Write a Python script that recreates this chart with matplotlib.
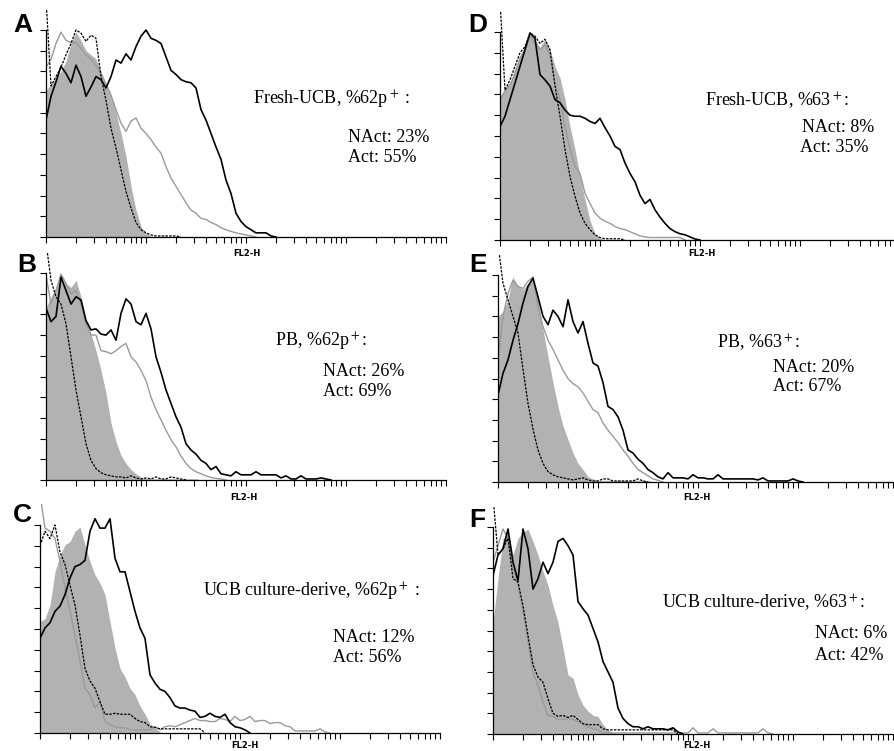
import numpy as np
import matplotlib
matplotlib.use('Agg')
import matplotlib.pyplot as plt
from matplotlib.ticker import LogLocator, NullFormatter

# histogram heights, one value per 0.05 decade of FL2-H,
# in units of the y tick spacing (10 = top tick)
CH_STEP = 0.05

# A: Fresh-UCB, 62p
A_fill = [7.1, 7.35, 7.7, 8.0, 8.5, 9.35, 9.9, 9.5, 9.0, 8.8, 8.6, 8.0, 7.3, 6.8, 6.0, 5.0, 3.9, 2.45,
          1.3, 0.5, 0.2, 0.03]
A_dash = [11.5, 7.3, 7.75, 8.2, 8.8, 9.35, 10.0, 9.85, 9.45, 9.75, 9.6, 7.75, 6.6, 5.25, 4.3, 3.25, 2.2,
          1.4, 0.7, 0.35, 0.2, 0.1, 0.05, 0.05, 0.05, 0.05, 0.05]
A_nact = [8.2, 8.6, 9.35, 9.9, 9.5, 9.4, 9.4, 9.1, 8.8, 8.6, 8.3, 7.9, 7.4, 6.85, 6.15, 5.5, 5.1, 5.6,
          5.75, 5.25, 5.0, 4.7, 4.35, 4.05, 3.4, 2.85, 2.45, 2.05, 1.65, 1.3, 1.15, 0.9, 0.85, 0.7, 0.6,
          0.45, 0.35, 0.27, 0.2, 0.15, 0.1, 0.05]
A_act = [5.65, 6.8, 7.5, 8.25, 7.9, 7.45, 8.3, 7.75, 6.8, 7.25, 7.75, 7.6, 7.2, 7.75, 8.55, 8.4, 8.85,
         8.55, 9.2, 9.7, 10.0, 9.6, 9.5, 9.35, 8.7, 8.05, 7.85, 7.6, 7.5, 7.45, 7.2, 6.15, 5.65, 5.0, 4.35,
         3.75, 2.75, 2.1, 1.15, 0.75, 0.5, 0.35, 0.2, 0.2, 0.2, 0.05]

# B: PB, 62p
B_fill = [8.35, 8.85, 9.3, 9.9, 9.5, 9.3, 9.65, 8.85, 7.7, 7.05, 6.25, 5.3, 4.2, 2.75, 1.85, 1.2, 0.8,
          0.5, 0.3, 0.15, 0.06, 0.06, 0.06, 0.06, 0.06, 0.06, 0.06, 0.06, 0.06, 0.06, 0.06]
B_dash = [11.5, 9.65, 8.85, 8.5, 7.55, 5.95, 4.35, 3.05, 1.75, 0.95, 0.55, 0.35, 0.25, 0.2, 0.15, 0.15,
          0.1, 0.2, 0.1, 0.05, 0.1, 0.05, 0.15, 0.05, 0.05, 0.15, 0.1, 0.05]
B_nact = [9.9, 8.5, 9.15, 9.95, 9.5, 9.0, 9.15, 8.5, 7.55, 7.0, 7.0, 6.25, 6.2, 6.1, 6.25, 6.45, 6.6,
          5.95, 5.7, 5.3, 4.8, 4.0, 3.4, 2.9, 2.4, 1.95, 1.6, 1.15, 0.8, 0.55, 0.4, 0.3, 0.2, 0.12, 0.08,
          0.05]
B_act = [8.3, 7.65, 7.9, 9.8, 9.15, 8.5, 8.85, 8.7, 7.7, 7.25, 7.3, 7.05, 7.0, 7.25, 6.75, 8.05, 8.75,
         8.5, 7.65, 7.5, 8.05, 7.3, 5.95, 5.2, 4.35, 3.7, 3.05, 2.55, 1.75, 1.45, 1.25, 0.95, 0.8, 0.5,
         0.65, 0.3, 0.25, 0.2, 0.4, 0.25, 0.25, 0.25, 0.4, 0.25, 0.25, 0.25, 0.25, 0.1, 0.2, 0.05, 0.05,
         0.2, 0.05, 0.05, 0.05, 0.1, 0.05]

# C: UCB culture-derive, 62p
C_fill = [5.35, 5.5, 6.15, 7.75, 8.55, 9.05, 9.2, 9.7, 9.9, 9.05, 8.25, 7.6, 7.2, 6.65, 5.35, 4.1, 3.1,
          2.7, 2.15, 1.85, 1.3, 0.9, 0.45, 0.25, 0.05]
C_dash = [9.0, 9.7, 9.35, 10.0, 8.7, 8.1, 7.1, 6.15, 4.7, 3.1, 2.5, 2.15, 1.5, 0.9, 0.9, 0.95, 0.9,
          0.9, 0.9, 0.7, 0.55, 0.5, 0.3, 0.27, 0.2, 0.2, 0.2, 0.2, 0.2, 0.2, 0.2, 0.2, 0.2]
C_nact = [11.5, 9.85, 9.7, 9.35, 8.25, 6.95, 5.85, 4.7, 3.45, 2.15, 1.85, 1.2, 1.5, 0.55, 0.4, 0.3, 0.25,
          0.25, 0.15, 0.15, 0.15, 0.15, 0.15, 0.3, 0.15, 0.3, 0.35, 0.3, 0.4, 0.5, 0.6, 0.7, 0.6, 0.6,
          0.55, 0.55, 0.7, 0.65, 0.55, 0.8, 0.6, 0.65, 0.8, 0.55, 0.6, 0.6, 0.45, 0.5, 0.5, 0.35, 0.3,
          0.1, 0.1, 0.1, 0.1, 0.1, 0.2, 0.05]
C_act = [4.55, 5.05, 5.3, 5.85, 6.1, 6.65, 7.45, 8.0, 8.1, 8.3, 9.7, 10.3, 9.85, 9.85, 10.3, 8.4, 7.75,
         7.75, 6.8, 5.85, 5.05, 4.55, 2.8, 2.4, 2.1, 2.0, 1.7, 1.3, 1.2, 1.2, 1.1, 1.05, 0.75, 0.8, 0.95,
         0.8, 0.75, 0.9, 0.5, 0.3, 0.25, 0.15]

# D: Fresh-UCB, 63
D_fill = [6.9, 7.3, 7.55, 8.25, 8.85, 9.15, 9.95, 9.65, 9.25, 9.65, 9.15, 8.35, 7.8, 6.75, 5.45, 4.35,
          3.05, 1.95, 0.95, 0.3, 0.1]
D_dash = [11.5, 7.2, 7.7, 8.35, 9.0, 9.3, 9.95, 9.8, 9.45, 9.65, 9.15, 7.4, 5.95, 4.35, 3.05, 2.1, 1.3,
          0.8, 0.5, 0.25, 0.12, 0.06, 0.06, 0.06, 0.06]
D_nact = [6.75, 7.15, 7.45, 8.0, 8.75, 9.15, 9.8, 9.45, 9.15, 9.4, 8.85, 7.55, 6.75, 5.45, 4.35, 3.55,
          3.2, 2.25, 1.75, 1.3, 1.05, 0.9, 0.8, 0.65, 0.55, 0.5, 0.4, 0.3, 0.2, 0.15, 0.12, 0.12, 0.12,
          0.12, 0.12, 0.12, 0.12]
D_act = [5.45, 5.95, 6.75, 7.55, 8.35, 9.15, 9.95, 9.7, 7.95, 7.7, 7.4, 6.75, 6.6, 6.25, 6.0, 5.95,
         5.95, 5.85, 5.7, 5.6, 5.85, 5.4, 5.0, 4.5, 4.35, 3.7, 3.2, 2.8, 2.15, 1.75, 1.95, 1.45, 1.1, 0.8,
         0.55, 0.4, 0.3, 0.25, 0.15, 0.05]

# E: PB, 63
E_fill = [8.0, 8.25, 8.8, 9.9, 9.45, 9.3, 9.6, 9.75, 8.8, 7.35, 6.05, 4.8, 3.65, 2.7, 2.05, 1.4, 0.9,
          0.6, 0.25, 0.15, 0.08, 0.08, 0.08, 0.08, 0.08, 0.08, 0.08, 0.08, 0.08, 0.08, 0.08]
E_dash = [11.5, 9.6, 8.8, 8.0, 7.2, 5.45, 3.8, 2.55, 1.55, 0.9, 0.5, 0.35, 0.25, 0.2, 0.15, 0.1, 0.15,
          0.2, 0.1, 0.05, 0.05, 0.15, 0.15, 0.05, 0.05, 0.05, 0.05, 0.05, 0.15, 0.05]
E_nact = [5.9, 8.0, 9.1, 9.75, 9.45, 9.35, 9.7, 9.9, 8.45, 7.5, 6.85, 6.4, 5.9, 5.4, 5.0, 4.75, 4.6,
          4.3, 3.9, 3.5, 3.35, 2.85, 2.5, 2.2, 1.9, 1.55, 1.25, 0.9, 0.6, 0.45, 0.3, 0.15, 0.08]
E_act = [4.2, 5.25, 5.9, 6.85, 7.65, 8.65, 9.45, 9.85, 8.95, 8.0, 7.6, 8.3, 8.0, 7.5, 8.8, 7.75, 7.2,
         7.75, 6.7, 5.75, 5.6, 4.8, 3.65, 3.5, 3.15, 2.5, 1.55, 1.4, 1.1, 0.9, 0.6, 0.45, 0.25, 0.15,
         0.45, 0.2, 0.2, 0.2, 0.15, 0.35, 0.2, 0.2, 0.15, 0.15, 0.35, 0.15, 0.15, 0.15, 0.15, 0.15, 0.15,
         0.15, 0.1, 0.2, 0.05, 0.05, 0.05, 0.05, 0.05, 0.15, 0.05]

# F: UCB culture-derive, 63
F_fill = [5.4, 7.5, 9.45, 9.75, 8.65, 9.45, 9.75, 9.9, 9.3, 8.65, 7.85, 7.2, 6.2, 5.4, 4.15, 2.85, 2.7,
          1.9, 1.4, 1.1, 0.9, 0.85, 0.45, 0.2, 0.08]
F_dash = [11.5, 8.65, 8.95, 9.45, 7.5, 7.35, 6.2, 4.75, 3.35, 2.75, 2.5, 1.7, 1.0, 0.85, 0.9, 0.8, 0.9,
          0.7, 0.5, 0.45, 0.45, 0.45, 0.25, 0.2, 0.2, 0.2, 0.2, 0.2, 0.2, 0.2, 0.2, 0.2, 0.2, 0.2, 0.2,
          0.2, 0.2]
F_nact = [8.3, 9.1, 9.9, 9.45, 8.0, 7.2, 5.9, 4.45, 3.0, 2.35, 1.55, 0.9, 0.85, 0.7, 0.7, 0.75, 0.7,
          0.6, 0.45, 0.35, 0.25, 0.2, 0.05, 0.05, 0.05, 0.05, 0.05, 0.05, 0.05, 0.05, 0.05, 0.05, 0.05,
          0.05, 0.05, 0.05, 0.05, 0.05, 0.05, 0.05, 0.3, 0.05, 0.05, 0.05, 0.25, 0.05, 0.05, 0.05, 0.05,
          0.05, 0.05, 0.05, 0.05, 0.05, 0.25, 0.05]
F_act = [7.65, 8.65, 8.95, 9.9, 8.3, 7.4, 9.9, 8.95, 7.0, 7.5, 8.3, 7.75, 8.3, 9.3, 9.45, 9.1, 8.65,
         6.4, 6.05, 5.75, 5.1, 4.45, 3.5, 3.0, 2.5, 1.25, 0.75, 0.5, 0.35, 0.35, 0.25, 0.35, 0.25, 0.25,
         0.25, 0.2, 0.3, 0.1]

letters = ['A', 'B', 'C', 'D', 'E', 'F']
titles = ['Fresh-UCB, %62p$^+$ :', 'PB, %62p$^+$:', 'UCB culture-derive, %62p$^+$ :',
          'Fresh-UCB, %63$^+$:', 'PB, %63$^+$:', 'UCB culture-derive, %63$^+$:']
nact_pct = ['23%', '26%', '12%', '8%', '20%', '6%']
act_pct = ['55%', '69%', '56%', '35%', '67%', '42%']

W, H = 894, 751

# pixel layout: axes left, y of zero, y of top tick, letter pos, title pos, NAct pos, Act pos, FL2-H pos
layout = {
    'A': dict(L=46, Y0=237, Y10=30, let=(13, 32), ttl=(253, 100), na=(348, 137), ac=(348, 157), fl=(247, 253)),
    'B': dict(L=46, Y0=480, Y10=273, let=(17, 272), ttl=(275, 342), na=(323, 372), ac=(323, 392), fl=(244, 497)),
    'C': dict(L=40, Y0=733, Y10=525, let=(13, 522), ttl=(203, 592), na=(333, 637), ac=(333, 657), fl=(245, 745)),
    'D': dict(L=500, Y0=240, Y10=32, let=(468, 32), ttl=(705, 101), na=(802, 127), ac=(800, 147), fl=(702, 253)),
    'E': dict(L=498, Y0=482, Y10=275, let=(469, 272), ttl=(717, 343), na=(773, 367), ac=(773, 387), fl=(697, 498)),
    'F': dict(L=493, Y0=734, Y10=527, let=(469, 527), ttl=(662, 603), na=(815, 633), ac=(815, 655), fl=(697, 745)),
}

data = {
    'A': (A_fill, A_dash, A_nact, A_act),
    'B': (B_fill, B_dash, B_nact, B_act),
    'C': (C_fill, C_dash, C_nact, C_act),
    'D': (D_fill, D_dash, D_nact, D_act),
    'E': (E_fill, E_dash, E_nact, E_act),
    'F': (F_fill, F_dash, F_nact, F_act),
}


def chan(vals):
    # bin centres on the log axis, with a drop to baseline after the last bin
    y = np.append(np.asarray(vals, float), 0.0)
    x = 10 ** (np.arange(len(y)) * CH_STEP)
    return x, y


def draw_panel(fig, key, i):
    p = layout[key]
    ytop = 11.0
    left = p['L'] / W
    bottom = 1 - p['Y0'] / H
    height = (p['Y0'] - p['Y10']) * ytop / 10.0 / H
    ax = fig.add_axes([left, bottom, 400 / W, height])

    fill, dash, nact, act = data[key]
    x, y = chan(fill)
    ax.fill_between(x, y, 0, color='#b2b2b2', lw=0)
    x, y = chan(nact)
    ax.plot(x, y, color='#9a9a9a', lw=1.0)
    x, y = chan(dash)
    ax.plot(x, y, color='black', lw=0.9, linestyle=(0, (2, 1)))
    x, y = chan(act)
    ax.plot(x, y, color='black', lw=1.2)

    ax.set_xscale('log')
    ax.set_xlim(1, 1e4)
    ax.set_ylim(0, ytop)
    ax.xaxis.set_major_locator(LogLocator(base=10))
    ax.xaxis.set_minor_locator(LogLocator(base=10, subs=np.arange(2, 10)))
    ax.xaxis.set_minor_formatter(NullFormatter())
    ax.set_yticks(np.arange(0, 11))
    ax.tick_params(axis='both', which='both', direction='out', length=4, width=0.8,
                   labelbottom=False, labelleft=False)
    for s in ['top', 'right']:
        ax.spines[s].set_visible(False)
    ax.spines['left'].set_bounds(0, 10)
    ax.spines['left'].set_linewidth(0.9)
    ax.spines['bottom'].set_linewidth(0.9)

    fig.text(p['let'][0] / W, 1 - p['let'][1] / H, key, fontsize=19, fontweight='bold',
             family='Liberation Sans', ha='left', va='baseline')
    fig.text(p['ttl'][0] / W, 1 - p['ttl'][1] / H, titles[i], fontsize=13,
             family='Liberation Serif', ha='left', va='center')
    fig.text(p['na'][0] / W, 1 - p['na'][1] / H, 'NAct: ' + nact_pct[i], fontsize=13,
             family='Liberation Serif', ha='left', va='center')
    fig.text(p['ac'][0] / W, 1 - p['ac'][1] / H, 'Act: ' + act_pct[i], fontsize=13,
             family='Liberation Serif', ha='left', va='center')
    fig.text(p['fl'][0] / W, 1 - p['fl'][1] / H, 'FL2-H', fontsize=6, fontweight='bold',
             family='DejaVu Sans', ha='center', va='center')


def main():
    plt.rcParams['mathtext.fontset'] = 'stix'
    fig = plt.figure(figsize=(W / 100, H / 100), dpi=100)
    for i, key in enumerate(letters):
        draw_panel(fig, key, i)
    fig.savefig('out.png', dpi=100)


if __name__ == '__main__':
    main()
